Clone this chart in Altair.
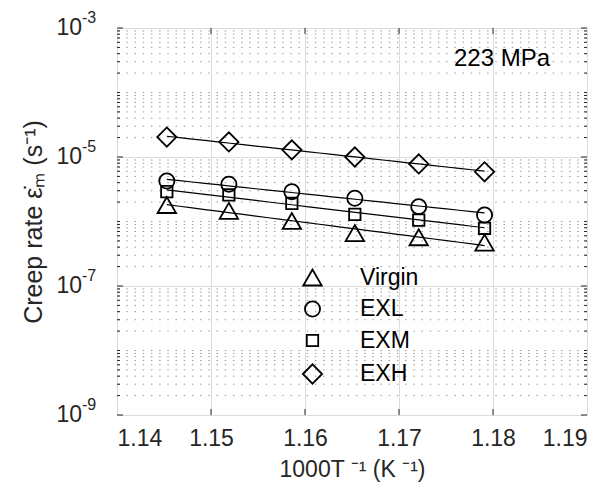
import altair as alt
import pandas as pd

FONT = "Liberation Sans"
W, H = 470, 387

# ---- data ----
inv_T = [1.1453, 1.1519, 1.1586, 1.1653, 1.1721, 1.1791]
virgin = [1.80e-6, 1.46e-6, 1.02e-6, 6.6e-7, 5.7e-7, 4.7e-7]
exl = [4.25e-6, 3.78e-6, 2.90e-6, 2.29e-6, 1.70e-6, 1.26e-6]
exm = [2.90e-6, 2.58e-6, 1.91e-6, 1.29e-6, 1.05e-6, 7.85e-7]
exh = [2.04e-5, 1.71e-5, 1.29e-5, 1.00e-5, 7.8e-6, 5.9e-6]
series_names = ["Virgin", "EXL", "EXM", "EXH"]
series_shapes = ["triangle-up", "circle", "square", "diamond"]
series_sizes = [340, 230, 130, 370]

x_ticks = [1.14, 1.15, 1.16, 1.17, 1.18, 1.19]
y_major = [1e-3, 1e-5, 1e-7, 1e-9]
y_major_exp = ["-3", "-5", "-7", "-9"]
y_decades = [-9, -8, -7, -6, -5, -4]
stress_label = "223 MPa"
x_title = "1000T \u207b\u00b9 (K \u207b\u00b9)"
y_title = "Creep rate \u03b5\u0307\u2098 (s\u207b\u00b9)"

rows = []
for name, vals in zip(series_names, [virgin, exl, exm, exh]):
    for xv, yv in zip(inv_T, vals):
        rows.append({"x": xv, "y": yv, "series": name})
df = pd.DataFrame(rows)

minor_vals = []
for d in y_decades:
    for k in range(1, 10):
        v = k * 10.0 ** d
        if k == 1 and d in (-9, -7, -5):
            continue
        minor_vals.append(v)
minor_df = pd.DataFrame({"y": minor_vals})
major_df = pd.DataFrame({"y": y_major, "e": y_major_exp})
xt_df = pd.DataFrame({"x": x_ticks[1:-1]})

xs = alt.Scale(domain=[1.14, 1.19], nice=False, zero=False)
ys = alt.Scale(type="log", domain=[1e-9, 1e-3], nice=False)

X = alt.X("x:Q", scale=xs,
          axis=alt.Axis(values=x_ticks, format=".2f", grid=True, gridColor="#dcdcdc",
                        gridWidth=1, ticks=False, tickSize=0, domain=False,
                        labelFontSize=23, labelFont=FONT, labelColor="#262626",
                        labelPadding=12, title=x_title, titleFont=FONT,
                        titleFontSize=23, titleFontWeight="normal", titleColor="#262626",
                        titlePadding=8))
Y = alt.Y("y:Q", scale=ys,
          axis=alt.Axis(values=y_major, grid=True, gridColor="#dcdcdc", gridWidth=1,
                        labels=False, ticks=False, tickSize=0, domain=False,
                        title=y_title, titleFont=FONT, titleFontSize=25,
                        titleFontWeight="normal", titleColor="#262626", titlePadding=71))

minor_grid = alt.Chart(minor_df).mark_rule(
    color="#9a9a9a", strokeWidth=1, strokeDash=[1.5, 6.7]
).encode(y=alt.Y("y:Q", scale=ys))

minor_tick_l = alt.Chart(minor_df).mark_rule(color="#262626", strokeWidth=1).encode(
    y=alt.Y("y:Q", scale=ys), x=alt.value(0), x2=alt.value(3))
minor_tick_r = alt.Chart(minor_df).mark_rule(color="#262626", strokeWidth=1).encode(
    y=alt.Y("y:Q", scale=ys), x=alt.value(W - 3), x2=alt.value(W))
major_tick_l = alt.Chart(major_df).mark_rule(color="#262626", strokeWidth=1).encode(
    y=alt.Y("y:Q", scale=ys), x=alt.value(0), x2=alt.value(6))
major_tick_r = alt.Chart(major_df).mark_rule(color="#262626", strokeWidth=1).encode(
    y=alt.Y("y:Q", scale=ys), x=alt.value(W - 6), x2=alt.value(W))
xtick_b = alt.Chart(xt_df).mark_rule(color="#262626", strokeWidth=1).encode(
    x=alt.X("x:Q", scale=xs), y=alt.value(H - 6), y2=alt.value(H))
xtick_t = alt.Chart(xt_df).mark_rule(color="#262626", strokeWidth=1).encode(
    x=alt.X("x:Q", scale=xs), y=alt.value(0), y2=alt.value(6))

ylab10 = alt.Chart(major_df).mark_text(
    align="right", baseline="middle", fontSize=23, font=FONT, color="#262626"
).encode(y=alt.Y("y:Q", scale=ys), x=alt.value(-35), text=alt.value("10"))
ylabexp = alt.Chart(major_df).mark_text(
    align="left", baseline="middle", fontSize=16, font=FONT, color="#262626", dy=-10
).encode(y=alt.Y("y:Q", scale=ys), x=alt.value(-35), text="e:N")

fits = alt.Chart(df).transform_regression(
    "x", "y", method="exp", groupby=["series"]
).mark_line(color="black", strokeWidth=1.2).encode(
    x=alt.X("x:Q", scale=xs), y=alt.Y("y:Q", scale=ys), detail="series:N")

leg = alt.Legend(title=None, orient="none", legendX=184, legendY=238,
                 labelFontSize=23, labelFont=FONT, labelColor="black",
                 symbolStrokeColor="black", symbolStrokeWidth=1.8,
                 labelOffset=36, rowPadding=7.5, padding=0)

points = alt.Chart(df).mark_point(
    filled=False, color="black", strokeWidth=1.8, opacity=1
).encode(
    x=X, y=Y,
    shape=alt.Shape("series:N", scale=alt.Scale(domain=series_names, range=series_shapes),
                    legend=leg),
    size=alt.Size("series:N",
                  scale=alt.Scale(type="ordinal", domain=series_names, range=series_sizes),
                  legend=leg),
)

label = alt.Chart(pd.DataFrame({"t": [stress_label]})).mark_text(
    align="right", baseline="middle", fontSize=24, font=FONT, color="black"
).encode(text="t:N", x=alt.value(433), y=alt.value(31))

chart = alt.layer(
    minor_grid, points, fits, minor_tick_l, minor_tick_r, major_tick_l, major_tick_r,
    xtick_b, xtick_t, ylab10, ylabexp, label
).properties(
    width=W, height=H,
    autosize=alt.AutoSizeParams(type="none"),
    padding={"left": 117, "top": 28, "right": 24, "bottom": 85},
).configure_view(stroke="#262626", strokeWidth=1.4).configure(background="white")

chart.save("out.html", embed_options={"renderer": "svg", "actions": False})
